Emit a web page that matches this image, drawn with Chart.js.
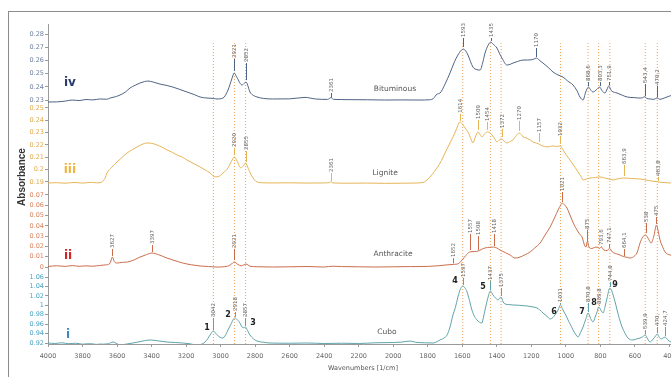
<!DOCTYPE html>
<html><head><meta charset="utf-8">
<style>
html,body{margin:0;padding:0;background:#fff;overflow:hidden;width:671px;height:377px;}
#frame{position:absolute;left:8px;top:11px;width:800px;height:500px;border:1px solid #8c8c8c;box-sizing:border-box;}
#wrap{position:absolute;left:0;top:0;width:700px;height:377px;}
</style>
<script src="https://cdn.jsdelivr.net/npm/chart.js@4.4.1/dist/chart.umd.min.js"></script>
</head><body>
<div id="frame"></div>
<div id="wrap"><canvas id="c" width="700" height="377"></canvas></div>
<script>
// ---------- DATA ----------
const xTicksStep = 200;

// iv Bituminous
const bitWn  = [4000,3950,3900,3860,3820,3780,3740,3700,3660,3640,3610,3583,3550,3525,3495,3467,3440,3421,3390,3351,3310,3276,3240,3195,3150,3119,3079,3040,3021,2986,2957,2935,2921,2905,2876,2862,2852,2840,2830,2810,2789,2750,2700,2600,2511,2450,2380,2361,2345,2250,2150,2050,1950,1850,1790,1769,1746,1729,1700,1671,1645,1625,1605,1593,1580,1567,1538,1515,1497,1480,1468,1450,1435,1420,1399,1385,1370,1341,1320,1306,1280,1248,1220,1200,1185,1170,1150,1132,1100,1074,1045,1016,990,958,935,918,900,885,868.6,855,842,825,803.3,790,773,760,751.9,735,703,670,645,600,570,555,543.4,530,510,490,470.2,455,430,400,360];
const bitAbs = [0.2285,0.2286,0.2292,0.2300,0.2296,0.2304,0.2301,0.2308,0.2306,0.2315,0.2325,0.2338,0.2362,0.2391,0.2412,0.2429,0.2440,0.2444,0.2436,0.2421,0.2410,0.2398,0.2382,0.2361,0.2340,0.2323,0.2315,0.2312,0.2308,0.2315,0.2376,0.2460,0.2505,0.2470,0.2414,0.2428,0.2436,0.2400,0.2361,0.2335,0.2323,0.2312,0.2308,0.2309,0.2320,0.2308,0.2305,0.2318,0.2305,0.2303,0.2302,0.2300,0.2301,0.2300,0.2302,0.2310,0.2345,0.2353,0.2420,0.2505,0.2590,0.2641,0.2678,0.2686,0.2672,0.2641,0.2550,0.2530,0.2527,0.2590,0.2656,0.2715,0.2739,0.2722,0.2694,0.2655,0.2618,0.2565,0.2572,0.2580,0.2592,0.2603,0.2603,0.2605,0.2610,0.2618,0.2598,0.2580,0.2545,0.2512,0.2490,0.2474,0.2445,0.2414,0.2370,0.2323,0.2300,0.2360,0.2398,0.2375,0.2361,0.2375,0.2398,0.2370,0.2353,0.2385,0.2406,0.2370,0.2353,0.2335,0.2323,0.2318,0.2315,0.2318,0.2325,0.2312,0.2308,0.2305,0.2316,0.2305,0.2315,0.2330,0.2345];

// iii Lignite
const ligWn  = [4000,3950,3900,3850,3800,3750,3720,3690,3670,3658,3630,3600,3570,3542,3510,3484,3455,3426,3400,3368,3340,3311,3280,3253,3220,3195,3160,3119,3090,3061,3032,3010,2986,2957,2940,2920,2905,2882,2868,2855,2840,2820,2789,2750,2700,2600,2500,2400,2370,2361,2350,2250,2150,2050,1950,1880,1845,1820,1804,1775,1746,1720,1700,1671,1640,1625,1614,1600,1580,1567,1550,1538,1525,1509,1495,1486,1470,1454,1440,1428,1410,1399,1385,1372,1355,1341,1320,1306,1290,1270,1255,1248,1230,1219,1205,1190,1170,1157,1140,1109,1090,1074,1050,1032,1020,1005,985,964,945,929,912,900,880,860,830,802,770,740,726,700,663.9,620,570,520,490,463.8,430,396,360];
const ligAbs = [0.1892,0.1894,0.1890,0.1896,0.1891,0.1897,0.1893,0.1898,0.1930,0.1973,0.2020,0.2062,0.2100,0.2135,0.2163,0.2184,0.2205,0.2216,0.2213,0.2200,0.2182,0.2160,0.2140,0.2119,0.2100,0.2078,0.2052,0.2022,0.1998,0.1973,0.1941,0.1945,0.1973,0.2014,0.2060,0.2103,0.2070,0.2014,0.2030,0.2054,0.2010,0.1950,0.1900,0.1893,0.1892,0.1893,0.1891,0.1892,0.1895,0.1903,0.1892,0.1890,0.1891,0.1889,0.1890,0.1891,0.1893,0.1900,0.1916,0.1960,0.2014,0.2075,0.2135,0.2216,0.2306,0.2360,0.2387,0.2370,0.2330,0.2306,0.2250,0.2216,0.2260,0.2306,0.2280,0.2265,0.2290,0.2306,0.2298,0.2281,0.2245,0.2224,0.2240,0.2249,0.2228,0.2216,0.2230,0.2241,0.2270,0.2297,0.2280,0.2265,0.2258,0.2249,0.2240,0.2224,0.2215,0.2208,0.2195,0.2184,0.2188,0.2192,0.2188,0.2192,0.2170,0.2135,0.2095,0.2054,0.2015,0.1981,0.1945,0.1916,0.1925,0.1932,0.1936,0.1941,0.1930,0.1920,0.1916,0.1925,0.1932,0.1928,0.1924,0.1912,0.1905,0.1900,0.1895,0.1892,0.1890];

// ii Anthracite
const antWn  = [4000,3950,3900,3860,3820,3780,3740,3700,3670,3641,3627,3615,3600,3570,3540,3500,3467,3430,3397,3360,3311,3270,3220,3170,3119,3070,3021,2960,2940,2921,2900,2880,2852,2830,2790,2700,2600,2500,2400,2350,2300,2200,2100,2000,1900,1800,1740,1700,1652,1620,1601,1580,1557,1530,1508,1490,1468,1440,1418,1400,1381,1350,1323,1294,1265,1235,1207,1180,1149,1120,1091,1063,1045,1030,1021,1008,993,978,964,950,935,920,906,890,883,875,866,850,833,819,805,793.6,780,760,747.1,730,705,686,664.1,645,628,600,588,570,555,538,520,506,490,475,465,454,440,425,396,360];
const antAbs = [0.0005,0.0012,0.0006,0.0014,0.0007,0.0011,0.0008,0.0015,0.0020,0.0035,0.0097,0.0050,0.0039,0.0045,0.0049,0.0070,0.0097,0.0120,0.0136,0.0120,0.0087,0.0065,0.0039,0.0022,0.0010,0.0005,0.0000,0.0008,0.0025,0.0049,0.0025,0.0012,0.0029,0.0008,0.0003,0.0000,0.0002,0.0005,0.0000,0.0008,0.0004,0.0002,0.0000,0.0002,0.0004,0.0006,0.0012,0.0019,0.0025,0.0035,0.0068,0.0110,0.0146,0.0150,0.0155,0.0170,0.0185,0.0192,0.0194,0.0185,0.0165,0.0140,0.0117,0.0087,0.0097,0.0120,0.0146,0.0185,0.0233,0.0311,0.0389,0.0486,0.0554,0.0600,0.0622,0.0605,0.0573,0.0515,0.0457,0.0405,0.0360,0.0320,0.0292,0.0205,0.0195,0.0250,0.0195,0.0180,0.0190,0.0194,0.0180,0.0195,0.0165,0.0160,0.0182,0.0145,0.0128,0.0117,0.0100,0.0095,0.0087,0.0110,0.0136,0.0233,0.0290,0.0311,0.0270,0.0233,0.0300,0.0408,0.0350,0.0262,0.0200,0.0146,0.0117,0.0110];

// i Cubo
const cubWn  = [4000,3960,3920,3880,3840,3800,3760,3720,3680,3650,3623,3600,3583,3550,3508,3460,3409,3360,3311,3260,3220,3180,3137,3110,3090,3075,3061,3042,3025,3003,2986,2970,2957,2940,2918,2900,2888,2876,2867,2857,2843,2830,2810,2789,2750,2714,2600,2500,2400,2300,2200,2100,2000,1950,1903,1870,1820,1769,1745,1729,1700,1688,1671,1654,1640,1625,1610,1597,1585,1572,1558,1544,1530,1514,1500,1486,1477,1468,1452,1437,1422,1408,1393,1375,1363,1352,1330,1306,1270,1225,1190,1167,1150,1132,1110,1091,1075,1063,1045,1031,1020,1010,998,987,972,958,944,929,915,900,885,870.8,856,842,830,819,809.8,797,784,772,761,744.8,735,726,715,703,690,674,656,640,625,611,590,570,555,539.9,525,512,495,480,470,460,448,435,424.7,410,391,360];
const cubAbs = [0.9200,0.9190,0.9205,0.9185,0.9195,0.9175,0.9185,0.9170,0.9175,0.9185,0.9221,0.9185,0.9158,0.9175,0.9200,0.9235,0.9264,0.9245,0.9221,0.9210,0.9200,0.9185,0.9158,0.9175,0.9221,0.9290,0.9370,0.9455,0.9390,0.9320,0.9306,0.9380,0.9476,0.9600,0.9731,0.9680,0.9625,0.9540,0.9525,0.9540,0.9460,0.9370,0.9290,0.9242,0.9215,0.9200,0.9195,0.9200,0.9190,0.9195,0.9190,0.9205,0.9210,0.9220,0.9242,0.9215,0.9205,0.9200,0.9230,0.9264,0.9320,0.9370,0.9540,0.9794,0.9950,1.0177,1.0350,1.0410,1.0370,1.0283,1.0100,0.9901,0.9770,0.9688,0.9640,0.9625,0.9750,0.9901,1.0150,1.0304,1.0219,1.0160,1.0113,1.0177,1.0070,1.0028,1.0015,1.0007,1.0000,0.9986,0.9965,0.9943,0.9900,0.9837,0.9770,0.9710,0.9740,0.9794,0.9900,1.0007,0.9930,0.9858,0.9780,0.9688,0.9580,0.9476,0.9390,0.9327,0.9420,0.9540,0.9700,0.9837,0.9720,0.9646,0.9750,0.9858,0.9964,0.9900,0.9837,0.9980,1.0155,1.0368,1.0320,1.0219,1.0080,0.9901,0.9720,0.9540,0.9400,0.9306,0.9270,0.9264,0.9285,0.9306,0.9330,0.9370,0.9280,0.9221,0.9280,0.9350,0.9391,0.9330,0.9285,0.9310,0.9327,0.9270,0.9221,0.9210];

// dotted reference wavenumbers
const refWn = [3042,2920,2855,1597,1437,1375,1031,870.8,809.8,744.8,539.9,470];

// peak labels: [wavenumber, text, label base value, line end value]
const bitPeaks = [[2921,'2921',0.2611,0.2520],[2852,'2852',0.2580,0.2452],[2361,'2361',0.2353,0.2318],[1593,'1593',0.2770,0.2702],[1435,'1435',0.2770,0.2747],[1170,'1170',0.2694,0.2626],[868.6,'868,6',0.2436,0.2406],[803.3,'803,3',0.2436,0.2406],[751.9,'751,9',0.2436,0.2412],[543.4,'543,4',0.2421,0.2330],[470.2,'470,2',0.2406,0.2323]];
const ligPeaks = [[2920,'2920',0.2176,0.2119],[2855,'2855',0.2151,0.2062],[2361,'2361',0.1973,0.1908],[1614,'1614',0.2452,0.2395],[1509,'1509',0.2403,0.2322],[1454,'1454',0.2387,0.2322],[1372,'1372',0.2330,0.2265],[1270,'1270',0.2395,0.2314],[1157,'1157',0.2297,0.2224],[1032,'1032',0.2265,0.2208],[663.9,'663,9',0.2038,0.1949],[463.8,'463,8',0.1941,0.1908]];
const antPeaks = [[3627,'3627',0.0175,0.0107],[3397,'3397',0.0214,0.0146],[2921,'2921',0.0175,0.0068],[1652,'1652',0.0087,0.0035],[1557,'1557',0.0321,0.0165],[1508,'1508',0.0301,0.0165],[1418,'1418',0.0321,0.0204],[1021,'1021',0.0729,0.0632],[875,'875',0.0360,0.0253],[793.6,'793,6',0.0204,0.0200],[747.1,'747,1',0.0224,0.0188],[664.1,'664,1',0.0175,0.0107],[538,'538',0.0428,0.0330],[475,'475',0.0486,0.0418]];
const cubPeaks = [[3042,'3042',0.9731,0.9476],[2918,'2918',0.9858,0.9752],[2857,'2857',0.9731,0.9561],[1597,'1597',1.0580,1.0431],[1437,'1437',1.0516,1.0325],[1375,'1375',1.0368,1.0198],[1031,'1031',1.0049,1.0028],[870.8,'870,8',1.0049,0.9858],[809.8,'809,8',1.0007,0.9985],[744.8,'744,8',1.0495,1.0389],[539.9,'539,9',0.9476,0.9391],[470,'470,',0.9540,0.9412],[424.7,'424,7',0.9540,0.9349]];
// band numbers in Cubo: [wavenumber, text, value]
const cubBands = [[3079,'1',0.9518],[2957,'2',0.9794],[2812,'3',0.9625],[1642,'4',1.0516],[1480,'5',1.0389],[1068,'6',0.9858],[906,'7',0.9858],[837,'8',1.0049],[715,'9',1.0431]];
// panel captions: [text, axis, wavenumber, value]
const romans = [['iv','yIV',3873,0.2429],['iii','yIII',3873,0.1997],['ii','yII',3884,0.0107],['i','yI',3884,0.937]];
const names  = [['Bituminous','yIV',1990,0.2383],['Lignite','yIII',2047,0.1973],['Anthracite','yII',2001,0.0126],['Cubo','yI',2036,0.9434]];

// ---------- STYLE ----------
const col = {
  IV:  {line:'#4f6384', tick:'#6d7f9c', roman:'#2a3b6e'},
  III: {line:'#e6b455', tick:'#e2aa4c', roman:'#f0b43c'},
  II:  {line:'#c96d4a', tick:'#d9825e', roman:'#d42424'},
  I:   {line:'#5fa3aa', tick:'#4aa3c4', roman:'#3f86c4'}
};
const FONT = 'DejaVu Sans';

function pts(wn, ab){ return wn.map((w,i)=>({x:w,y:ab[i]})); }
function spec(wn, ab, axis, color){
  return {data: pts(wn,ab), yAxisID: axis, borderColor: color, borderWidth: 1, pointRadius: 0, fill: false, cubicInterpolationMode: 'monotone'};
}
function yAx(min, max, step, tickColor, weight, sw){
  return {
    type:'linear', axis:'y', position:'left', stack:'panels', stackWeight: sw, weight: weight,
    min: min, max: max,
    afterFit: s => { s.width = 48; },
    border: {display:true, color:'#9a9a9a', width:1},
    grid: {display:true, drawOnChartArea:false, drawTicks:true, tickLength:3, color:'#9a9a9a'},
    ticks: {stepSize: step, includeBounds:false, autoSkip:false, padding:1, color: tickColor,
            font:{family:FONT, size:6.5}, callback: v => String(+(+v).toFixed(2))}
  };
}

const datasets = [
  spec(bitWn, bitAbs, 'yIV', col.IV.line),
  spec(ligWn, ligAbs, 'yIII', col.III.line),
  spec(antWn, antAbs, 'yII', col.II.line),
  spec(cubWn, cubAbs, 'yI', col.I.line)
];
refWn.forEach(w => datasets.push({data:[{x:w,y:0},{x:w,y:0.94}], yAxisID:'yFull', borderColor:'#ee9f55', borderWidth:1, borderDash:[1,2], pointRadius:0, fill:false}));

const annot = {
  id:'annot',
  afterDatasetsDraw(chart){
    const {ctx, scales, chartArea} = chart;
    const xs = scales.x;
    const sets = [[bitPeaks,'yIV',col.IV.line],[ligPeaks,'yIII',col.III.line],[antPeaks,'yII',col.II.line],[cubPeaks,'yI',col.I.line]];
    ctx.save();
    sets.forEach(([arr, ax, lc]) => {
      const ys = scales[ax];
      arr.forEach(([w,t,vt,vl]) => {
        const x = Math.round(xs.getPixelForValue(w)) + 0.5;
        const yt = ys.getPixelForValue(vt), yl = ys.getPixelForValue(vl);
        ctx.strokeStyle = lc; ctx.lineWidth = 1;
        ctx.beginPath(); ctx.moveTo(x, yt); ctx.lineTo(x, yl); ctx.stroke();
        ctx.save(); ctx.translate(x, yt - 1); ctx.rotate(-Math.PI/2);
        ctx.font = '5.5px "'+FONT+'"'; ctx.fillStyle = '#666';
        ctx.textAlign = 'left'; ctx.textBaseline = 'middle';
        ctx.fillText(t, 0, 0.5); ctx.restore();
      });
    });
    // band numbers
    ctx.font = 'bold 8px "'+FONT+'"'; ctx.fillStyle = '#222'; ctx.textAlign='center'; ctx.textBaseline='middle';
    cubBands.forEach(([w,t,v]) => ctx.fillText(t, xs.getPixelForValue(w), scales.yI.getPixelForValue(v)));
    // romans
    const rc = {yIV:col.IV.roman, yIII:col.III.roman, yII:col.II.roman, yI:col.I.roman};
    ctx.font = 'bold 12px "'+FONT+'"';
    romans.forEach(([t,ax,w,v]) => { ctx.fillStyle = rc[ax]; ctx.fillText(t, xs.getPixelForValue(w), scales[ax].getPixelForValue(v)); });
    // names
    ctx.font = '7.5px "'+FONT+'"'; ctx.fillStyle = '#555';
    names.forEach(([t,ax,w,v]) => ctx.fillText(t, xs.getPixelForValue(w), scales[ax].getPixelForValue(v)));
    // y title
    ctx.save(); ctx.translate(22, (chartArea.top + chartArea.bottom)/2 - 7); ctx.rotate(-Math.PI/2);
    ctx.font = 'bold 10px "Liberation Sans"'; ctx.fillStyle = '#333'; ctx.textAlign='center'; ctx.textBaseline='middle';
    ctx.fillText('Absorbance', 0, 0); ctx.restore();
    ctx.restore();
  }
};

new Chart(document.getElementById('c'), {
  type:'line',
  data:{datasets},
  options:{
    responsive:false, devicePixelRatio:1, animation:false, events:[],
    layout:{padding:{top:24, right:22, left:0, bottom:0}},
    plugins:{legend:{display:false}, tooltip:{enabled:false}},
    scales:{
      x:{type:'linear', position:'bottom', reverse:true, min:350, max:4000,
         afterFit: s => { s.height = 33; },
         border:{display:true, color:'#9a9a9a'},
         grid:{display:true, drawOnChartArea:false, tickLength:3, color:'#9a9a9a'},
         ticks:{stepSize:xTicksStep, includeBounds:false, autoSkip:false, maxRotation:0, padding:5, color:'#666',
                font:{family:FONT, size:6.5}, callback: v => String(v)},
         title:{display:true, text:'Wavenumbers [1/cm]', color:'#555', font:{family:FONT, size:6.5}, padding:{top:0, bottom:5}}
      },
      yI:   yAx(0.9179, 1.0749, 0.02, col.I.tick, 1, 74),
      yII:  yAx(-0.0029, 0.0768, 0.01, col.II.tick, 2, 82),
      yIII: yAx(0.1851, 0.2532, 0.01, col.III.tick, 3, 84),
      yIV:  yAx(0.2270, 0.2876, 0.01, col.IV.tick, 4, 80),
      yFull:{type:'linear', axis:'y', position:'left', display:false, min:0, max:1, weight:0}
    }
  },
  plugins:[annot]
});
</script>
</body></html>
